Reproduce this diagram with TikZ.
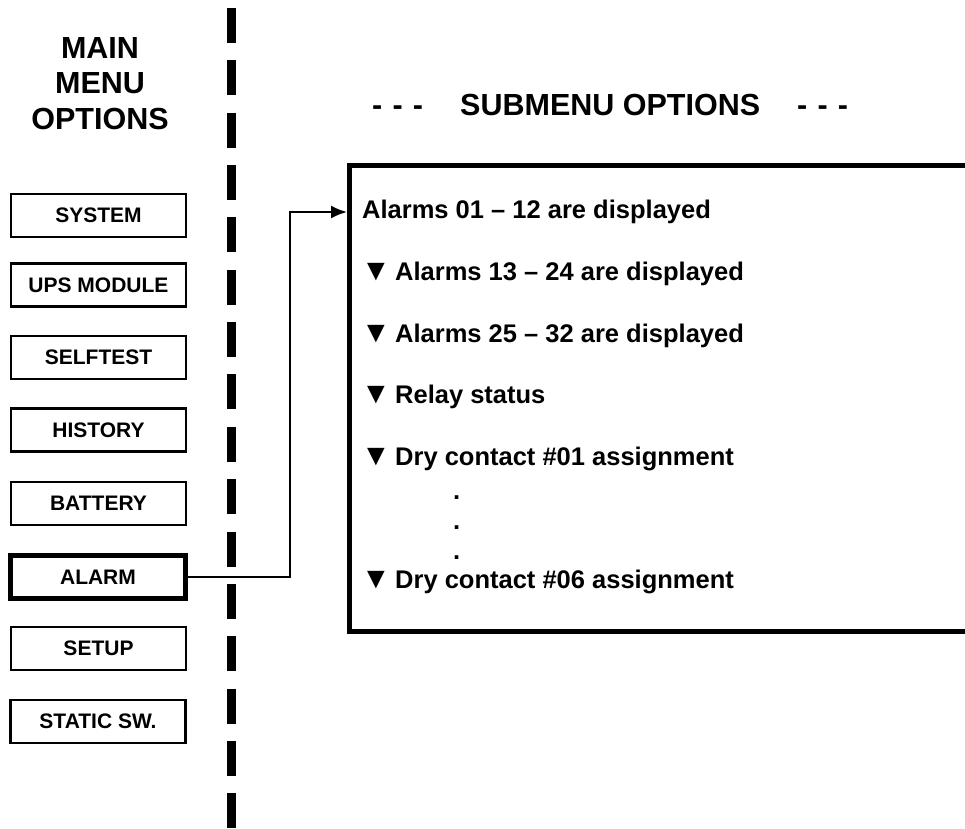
\documentclass[tikz,border=0pt]{standalone}
\usepackage{fontspec}
\setmainfont{Liberation Sans}
\usetikzlibrary{arrows.meta}
\tikzset{
  menubox/.style={draw, line width=2.5pt, minimum width=175pt, minimum height=43pt, inner sep=0pt,
    font=\fontsize{21}{21}\selectfont\bfseries},
  selbox/.style={menubox, line width=5.5pt},
  head/.style={anchor=base, inner sep=0pt, font=\fontsize{30.5}{30.5}\selectfont\bfseries},
  item/.style={anchor=base west, inner sep=0pt, font=\fontsize{25.5}{25.5}\selectfont\bfseries},
  tri/.style={anchor=base west, inner sep=0pt, font=\fontsize{30}{30}\selectfont},
  divider/.style={line width=9pt, dash pattern=on 35pt off 17.35pt},
  conn/.style={line width=2pt, -{Latex[length=16pt,width=13pt]}},
}
\begin{document}
\begin{tikzpicture}[x=1pt,y=-1pt]
\useasboundingbox (0,0) rectangle (965,828);
% divider
\coordinate (dtop) at (231,8);
\coordinate (dbot) at (231,840);
\draw[divider] (dtop) -- (dbot);
% left header
\node[head] (m1) at (100,58) {MAIN};
\node[head] (m2) at (100,93) {MENU};
\node[head] (m3) at (100,129) {OPTIONS};
% right header
\node[head, anchor=base west] (ld) at (372,115) {-\,\,-\,\,-};
\node[head, anchor=base west] (st) at (460,115) {SUBMENU OPTIONS};
\node[head, anchor=base west] (rd) at (797,115) {-\,\,-\,\,-};
% menu boxes
\node[menubox] (system) at (98.5,215.5) {SYSTEM};
\node[menubox] (ups) at (98.5,285) {UPS MODULE};
\node[menubox] (self) at (98.5,357.5) {SELFTEST};
\node[menubox] (hist) at (98.5,430) {HISTORY};
\node[menubox] (batt) at (98.5,503.5) {BATTERY};
\node[selbox] (alarm) at (98,577) {ALARM};
\node[menubox] (setup) at (98.5,648.5) {SETUP};
\node[menubox] (static) at (98,721.5) {STATIC SW.};
% submenu box
\node[draw, line width=5pt, minimum width=660pt, minimum height=466pt, inner sep=0pt] (sub) at (679,398) {};
% items
\node[item] (a1) at (362,218) {Alarms 01 -- 12 are displayed};
\node[tri] (t2) at (361,280) {▼};
\node[item] (a2) at (395,280) {Alarms 13 -- 24 are displayed};
\node[tri] (t3) at (361,342) {▼};
\node[item] (a3) at (395,342) {Alarms 25 -- 32 are displayed};
\node[tri] (t4) at (361,403) {▼};
\node[item] (a4) at (395,403) {Relay status};
\node[tri] (t5) at (361,465) {▼};
\node[item] (a5) at (395,465) {Dry contact \#01 assignment};
\node[item] (d1) at (453,499) {.};
\node[item] (d2) at (453,529) {.};
\node[item] (d3) at (453,559) {.};
\node[tri] (t6) at (361,588) {▼};
\node[item] (a6) at (395,588) {Dry contact \#06 assignment};
% connector
\coordinate (bend) at (290,212);
\coordinate (tip) at (347,212);
\draw[conn] (alarm.east) -| (bend) -- (tip);
\end{tikzpicture}
\end{document}
